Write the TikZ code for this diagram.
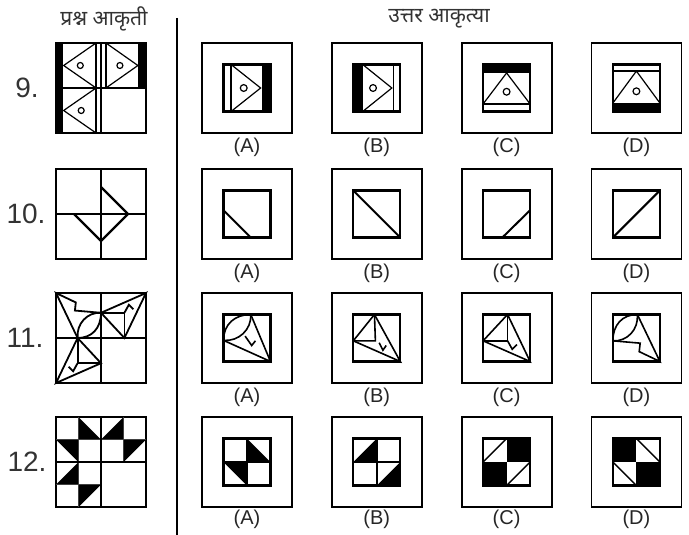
\documentclass[tikz,border=0pt]{standalone}
\usepackage{fontspec}
\setmainfont{Liberation Sans}
\newfontfamily\hindi[Script=Devanagari]{Noto Sans}
\usepackage{tikz}
\usetikzlibrary{positioning}

% dart figures, drawn with the corner at (1,1) of a unit cell
\newcommand{\lensdart}{%
  \draw (0,0.56) .. controls (0,0.22) and (0.2,0) .. (0.52,0);
  \draw (0,0.56) .. controls (0.3,0.58) and (0.55,0.32) .. (0.52,0);
  \draw (0.52,0) -- (1,1) -- (0.56,0.79) -- (0.58,0.61) -- (0,0.56);
}
\newcommand{\squaredart}{%
  \draw (0,0.56) -- (0.52,0) -- (1,1) -- cycle;
  \draw (0.52,0) -- (0.52,0.56) -- (0,0.56);
  \draw (0.52,0.56) -- (0.62,0.74) -- (0.72,0.64);
}

\begin{document}
\begin{tikzpicture}[x=1pt, y=-1pt, node distance=38pt,
  qbox/.style={draw, line width=2.2pt, minimum size=90pt, inner sep=0pt},
  obox/.style={draw, line width=1.8pt, minimum size=90pt, inner sep=0pt},
  lbl/.style={font=\fontsize{20}{20}\selectfont, inner sep=0pt, text=black!85},
  num/.style={font=\fontsize{28}{28}\selectfont, text=black!80},
  head/.style={font=\hindi\fontsize{21}{24}\selectfont, text=black!80},
  infig/.style={shift={(#1.center)}, x=47pt, y=-47pt, shift={(-0.5,-0.5)}},
  qfig/.style={shift={(#1.center)}, x=45pt, y=-45pt, shift={(-1,-1)}}]
  \useasboundingbox (0,0) rectangle (689,535);

  \node[head] (hq) at (104,19) {प्रश्न आकृती};
  \node[head] (ha) at (439,19) {उत्तर आकृत्या};
  \coordinate (vtop) at (177,18);
  \coordinate (vbot) at (177,535);
  \draw[line width=2.4pt] (vtop) -- (vbot);

  % question figures
  \node[num] (n9) at (27,88) {9.};
  \node[num] (n10) at (26,214) {10.};
  \node[num] (n11) at (25,338) {11.};
  \node[num] (n12) at (27,462) {12.};
  \node[qbox] (q9) at (101,88) {};
  \node[qbox] (q10) at (101,214) {};
  \node[qbox] (q11) at (101,338) {};
  \node[qbox] (q12) at (101,462) {};

  % answer boxes
  \node[obox] (a9a) at (247,88) {};
  \node[obox, right=of a9a] (a9b) {};
  \node[obox, right=of a9b] (a9c) {};
  \node[obox, right=of a9c] (a9d) {};
  \node[obox] (a10a) at (247,214) {};
  \node[obox, right=of a10a] (a10b) {};
  \node[obox, right=of a10b] (a10c) {};
  \node[obox, right=of a10c] (a10d) {};
  \node[obox] (a11a) at (247,338) {};
  \node[obox, right=of a11a] (a11b) {};
  \node[obox, right=of a11b] (a11c) {};
  \node[obox, right=of a11c] (a11d) {};
  \node[obox] (a12a) at (247,462) {};
  \node[obox, right=of a12a] (a12b) {};
  \node[obox, right=of a12b] (a12c) {};
  \node[obox, right=of a12c] (a12d) {};

  \node[lbl, below=4pt of a9a] (l9a) {(A)};
  \node[lbl, below=4pt of a9b] (l9b) {(B)};
  \node[lbl, below=4pt of a9c] (l9c) {(C)};
  \node[lbl, below=4pt of a9d] (l9d) {(D)};
  \node[lbl, below=4pt of a10a] (l10a) {(A)};
  \node[lbl, below=4pt of a10b] (l10b) {(B)};
  \node[lbl, below=4pt of a10c] (l10c) {(C)};
  \node[lbl, below=4pt of a10d] (l10d) {(D)};
  \node[lbl, below=4pt of a11a] (l11a) {(A)};
  \node[lbl, below=4pt of a11b] (l11b) {(B)};
  \node[lbl, below=4pt of a11c] (l11c) {(C)};
  \node[lbl, below=4pt of a11d] (l11d) {(D)};
  \node[lbl, below=2pt of a12a] (l12a) {(A)};
  \node[lbl, below=2pt of a12b] (l12b) {(B)};
  \node[lbl, below=2pt of a12c] (l12c) {(C)};
  \node[lbl, below=2pt of a12d] (l12d) {(D)};

  % 9
  \begin{scope}[qfig=q9, line width=1.2pt]
    \fill (0,0) rectangle (0.16,1);
    \fill (1.83,0) rectangle (2,1);
    \fill (0,1) rectangle (0.16,2);
    \draw (0.89,0) -- (0.89,2);
    \draw (1.11,0) -- (1.11,1);
    \draw (1,0) -- (1,2);
    \draw (0,1) -- (2,1);
    \draw (0.89,0) -- (0.17,0.5) -- (0.89,1);
    \draw (1.11,0) -- (1.82,0.5) -- (1.11,1);
    \draw (0.89,1) -- (0.17,1.5) -- (0.89,2);
    \draw (0.54,0.5) circle (3pt);
    \draw (1.42,0.5) circle (3pt);
    \draw (0.56,1.5) circle (3pt);
  \end{scope}
  \begin{scope}[infig=a9a, line width=1.2pt]
    \fill (0.81,0) rectangle (1,1);
    \draw (0.16,0) -- (0.16,1);
    \draw (0.16,0) -- (0.79,0.5) -- (0.16,1);
    \draw (0.43,0.5) circle (3.4pt);
    \draw[line width=2.3pt] (0,0) rectangle (1,1);
  \end{scope}
  \begin{scope}[infig=a9b, line width=1.2pt]
    \fill (0,0) rectangle (0.2,1);
    \draw (0.86,0) -- (0.86,1);
    \draw (0.2,0) -- (0.82,0.5) -- (0.2,1);
    \draw (0.42,0.5) circle (3.4pt);
    \draw[line width=2.3pt] (0,0) rectangle (1,1);
  \end{scope}
  \begin{scope}[infig=a9c, line width=1.2pt]
    \fill (0,0) rectangle (1,0.18);
    \draw (0,0.84) -- (1,0.84);
    \draw (0,0.84) -- (0.5,0.18) -- (1,0.84);
    \draw (0.5,0.58) circle (3.4pt);
    \draw[line width=2.3pt] (0,0) rectangle (1,1);
  \end{scope}
  \begin{scope}[infig=a9d, line width=1.2pt]
    \fill (0,0.82) rectangle (1,1);
    \draw (0,0.14) -- (1,0.14);
    \draw (0,0.82) -- (0.5,0.14) -- (1,0.82);
    \draw (0.5,0.57) circle (3.4pt);
    \draw[line width=2.3pt] (0,0) rectangle (1,1);
  \end{scope}

  % 10
  \begin{scope}[qfig=q10, line width=2.2pt]
    \draw (1,0) -- (1,2);
    \draw (0,1) -- (2,1);
    \draw (1,0.4) -- (1.6,1) -- (1,1.6) -- (0.4,1);
  \end{scope}
  \begin{scope}[infig=a10a, line width=2pt]
    \draw (0,0.42) -- (0.58,1);
    \draw[line width=2.3pt] (0,0) rectangle (1,1);
  \end{scope}
  \begin{scope}[infig=a10b, line width=2pt]
    \draw (0,0) -- (1,1);
    \draw[line width=2.3pt] (0,0) rectangle (1,1);
  \end{scope}
  \begin{scope}[infig=a10c, line width=2pt]
    \draw (1,0.42) -- (0.41,1);
    \draw[line width=2.3pt] (0,0) rectangle (1,1);
  \end{scope}
  \begin{scope}[infig=a10d, line width=2pt]
    \draw (0,1) -- (1,0);
    \draw[line width=2.3pt] (0,0) rectangle (1,1);
  \end{scope}

  % 11
  \begin{scope}[qfig=q11, line width=1.8pt]
    \begin{scope}[shift={(1,1)}, rotate=180] \lensdart \end{scope}
    \begin{scope}[shift={(1,1)}, yscale=-1] \squaredart \end{scope}
    \begin{scope}[shift={(1,1)}, xscale=-1] \squaredart \end{scope}
    \draw (1,0) -- (1,2);
    \draw (0,1) -- (2,1);
  \end{scope}
  \begin{scope}[infig=a11a, line width=1.6pt]
    \draw (0,0.55) .. controls (0,0.2) and (0.25,0) .. (0.58,0);
    \draw (0,0.55) .. controls (0.32,0.58) and (0.6,0.32) .. (0.58,0);
    \draw (0.58,0) -- (1,1) -- (0,0.55);
    \draw (0.46,0.46) -- (0.6,0.66) -- (0.68,0.56);
    \draw[line width=2.3pt] (0,0) rectangle (1,1);
  \end{scope}
  \begin{scope}[infig=a11b, line width=1.6pt]
    \draw (0,0.56) -- (0.45,0) -- (1,1) -- cycle;
    \draw (0.45,0) -- (0.47,0.56) -- (0,0.56);
    \draw (0.55,0.6) -- (0.63,0.76) -- (0.7,0.66);
    \draw[line width=2.3pt] (0,0) rectangle (1,1);
  \end{scope}
  \begin{scope}[infig=a11c, line width=1.6pt]
    \squaredart
    \draw[line width=2.3pt] (0,0) rectangle (1,1);
  \end{scope}
  \begin{scope}[infig=a11d, line width=1.6pt]
    \lensdart
    \draw[line width=2.3pt] (0,0) rectangle (1,1);
  \end{scope}

  % 12
  \begin{scope}[qfig=q12]
    \fill (0.5,0) -- (0.5,0.5) -- (1,0.5) -- cycle;
    \fill (1.5,0) -- (1.5,0.5) -- (1,0.5) -- cycle;
    \fill (0,0.5) -- (0.5,0.5) -- (0.5,1) -- cycle;
    \fill (1.5,0.5) -- (2,0.5) -- (1.5,1) -- cycle;
    \fill (0,1.5) -- (0.5,1.5) -- (0.5,1) -- cycle;
    \fill (0.5,2) -- (0.5,1.5) -- (1,1.5) -- cycle;
    \draw[line width=1.2pt, black!75] (0.5,0) -- (0.5,2) (1.5,0) -- (1.5,1)
      (0,0.5) -- (2,0.5) (0,1.5) -- (1,1.5);
    \draw[line width=1.8pt] (1,0) -- (1,2) (0,1) -- (2,1);
  \end{scope}
  \begin{scope}[infig=a12a, line width=1.4pt]
    \fill (0.5,0) -- (0.5,0.5) -- (1,0.5) -- cycle;
    \fill (0,0.5) -- (0.5,0.5) -- (0.5,1) -- cycle;
    \draw (0.5,0) -- (0.5,1) (0,0.5) -- (1,0.5);
    \draw[line width=2.3pt] (0,0) rectangle (1,1);
  \end{scope}
  \begin{scope}[infig=a12b, line width=1.4pt]
    \fill (0.5,0) -- (0.5,0.5) -- (0,0.5) -- cycle;
    \fill (1,0.5) -- (1,1) -- (0.5,1) -- cycle;
    \draw (0.5,0) -- (0.5,1) (0,0.5) -- (1,0.5);
    \draw[line width=2.3pt] (0,0) rectangle (1,1);
  \end{scope}
  \begin{scope}[infig=a12c, line width=1.4pt]
    \fill (0.5,0) rectangle (1,0.5);
    \fill (0,0.5) rectangle (0.5,1);
    \draw (0,0.5) -- (0.5,0) (0.5,1) -- (1,0.5);
    \draw[line width=2.3pt] (0,0) rectangle (1,1);
  \end{scope}
  \begin{scope}[infig=a12d, line width=1.4pt]
    \fill (0,0) rectangle (0.5,0.5);
    \fill (0.5,0.5) rectangle (1,1);
    \draw (0.5,0) -- (1,0.5) (0,0.5) -- (0.5,1);
    \draw[line width=2.3pt] (0,0) rectangle (1,1);
  \end{scope}
\end{tikzpicture}
\end{document}
